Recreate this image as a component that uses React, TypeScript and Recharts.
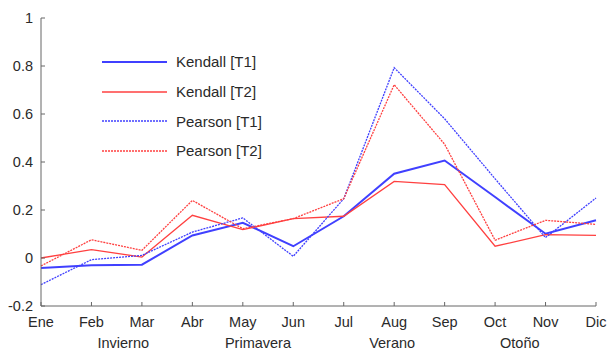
import { LineChart, Line, XAxis, YAxis, Legend } from "recharts";

const months = ["Ene", "Feb", "Mar", "Abr", "May", "Jun", "Jul", "Aug", "Sep", "Oct", "Nov", "Dic"];
const kendallT1 = [-0.042, -0.03, -0.028, 0.094, 0.147, 0.049, 0.174, 0.351, 0.406, 0.254, 0.101, 0.157];
const kendallT2 = [0.0, 0.035, 0.004, 0.178, 0.118, 0.164, 0.174, 0.319, 0.306, 0.049, 0.097, 0.094];
const pearsonT1 = [-0.111, -0.007, 0.011, 0.108, 0.167, 0.007, 0.247, 0.793, 0.58, 0.33, 0.085, 0.25];
const pearsonT2 = [-0.033, 0.076, 0.032, 0.24, 0.122, 0.164, 0.247, 0.722, 0.474, 0.074, 0.157, 0.14];

const seasons = ["Invierno", "Primavera", "Verano", "Otoño"];
// season label centres, in month-index units
const seasonAt = [1.63, 4.3, 6.96, 9.49];
const yTicks = [-0.2, 0, 0.2, 0.4, 0.6, 0.8, 1];

const BLUE = "#4040ff";
const RED = "#ff4040";
const FRAME = "#666";
const INK = "#2a2a2a";
const FONT = "'Liberation Sans', Arial, sans-serif";
const FS = 14.5;

const data = months.map((month, i) => ({
  idx: i,
  month,
  kendallT1: kendallT1[i],
  kendallT2: kendallT2[i],
  pearsonT1: pearsonT1[i],
  pearsonT2: pearsonT2[i],
}));

const legendItems = [
  { name: "Kendall [T1]", color: BLUE, dash: undefined, width: 2 },
  { name: "Kendall [T2]", color: RED, dash: undefined, width: 1.3 },
  { name: "Pearson [T1]", color: BLUE, dash: "2 1", width: 1.3 },
  { name: "Pearson [T2]", color: RED, dash: "2 1", width: 1.3 },
];

const MonthTick = (props: any) => {
  const { x, y, payload } = props;
  return (
    <g>
      <line x1={x} x2={x} y1={y} y2={y - 4} stroke={FRAME} />
      <text x={x} y={y + 21} textAnchor="middle" fontSize={FS} fontFamily={FONT} fill={INK}>
        {payload.value}
      </text>
    </g>
  );
};

const SeasonTick = (props: any) => {
  const { x, y, payload } = props;
  const i = seasonAt.indexOf(payload.value);
  return (
    <text x={x} y={y + 22} textAnchor="middle" fontSize={FS} fontFamily={FONT} fill={INK}>
      {seasons[i]}
    </text>
  );
};

const TopTick = (props: any) => {
  const { x, y } = props;
  return <line x1={x} x2={x} y1={y} y2={y + 4} stroke={FRAME} />;
};

const LeftTick = (props: any) => {
  const { x, y, payload } = props;
  return (
    <g>
      <line x1={x} x2={x + 4} y1={y} y2={y} stroke={FRAME} />
      <text x={x - 8} y={y + 5} textAnchor="end" fontSize={FS} fontFamily={FONT} fill={INK}>
        {payload.value}
      </text>
    </g>
  );
};

const RightTick = (props: any) => {
  const { x, y } = props;
  return <line x1={x} x2={x - 4} y1={y} y2={y} stroke={FRAME} />;
};

const LegendBox = () => (
  <div style={{ fontFamily: FONT, fontSize: 15, color: INK }}>
    {legendItems.map((item) => (
      <div key={item.name} style={{ display: "flex", alignItems: "center", height: 29.7 }}>
        <svg width={74} height={10}>
          <line
            x1={0}
            x2={65}
            y1={5}
            y2={5}
            stroke={item.color}
            strokeWidth={item.width}
            strokeDasharray={item.dash}
          />
        </svg>
        <span>{item.name}</span>
      </div>
    ))}
  </div>
);

export default function App() {
  return (
    <div style={{ position: "absolute", left: 0, top: 0, background: "#fff" }}>
      <LineChart width={610} height={351} data={data} margin={{ top: 18, right: 14, left: 6, bottom: 5 }}>
        <XAxis
          xAxisId="m"
          dataKey="month"
          height={20}
          interval={0}
          tickSize={0}
          tickMargin={0}
          tick={<MonthTick />}
          axisLine={{ stroke: FRAME }}
        />
        <XAxis
          xAxisId="s"
          dataKey="idx"
          type="number"
          domain={[0, 11]}
          ticks={seasonAt}
          height={20}
          tickSize={0}
          tickMargin={0}
          axisLine={false}
          tick={<SeasonTick />}
        />
        <XAxis
          xAxisId="t"
          dataKey="month"
          orientation="top"
          height={0}
          interval={0}
          tickSize={0}
          tickMargin={0}
          tick={<TopTick />}
          axisLine={{ stroke: FRAME }}
        />
        <YAxis
          yAxisId="l"
          width={35}
          domain={[-0.2, 1]}
          ticks={yTicks}
          tickSize={0}
          tickMargin={0}
          tick={<LeftTick />}
          axisLine={{ stroke: FRAME }}
        />
        <YAxis
          yAxisId="r"
          orientation="right"
          width={0}
          domain={[-0.2, 1]}
          ticks={yTicks}
          tickSize={0}
          tickMargin={0}
          tick={<RightTick />}
          axisLine={{ stroke: FRAME }}
        />
        <Legend
          layout="vertical"
          align="center"
          verticalAlign="middle"
          content={<LegendBox />}
          wrapperStyle={{ left: 102, top: 47, width: 180 }}
        />
        <Line xAxisId="m" yAxisId="l" type="linear" dataKey="kendallT1" stroke={BLUE} strokeWidth={2} dot={false} isAnimationActive={false} />
        <Line xAxisId="m" yAxisId="l" type="linear" dataKey="kendallT2" stroke={RED} strokeWidth={1.3} dot={false} isAnimationActive={false} />
        <Line xAxisId="m" yAxisId="l" type="linear" dataKey="pearsonT1" stroke={BLUE} strokeWidth={1.3} strokeDasharray="2 1" dot={false} isAnimationActive={false} />
        <Line xAxisId="m" yAxisId="l" type="linear" dataKey="pearsonT2" stroke={RED} strokeWidth={1.3} strokeDasharray="2 1" dot={false} isAnimationActive={false} />
      </LineChart>
    </div>
  );
}
